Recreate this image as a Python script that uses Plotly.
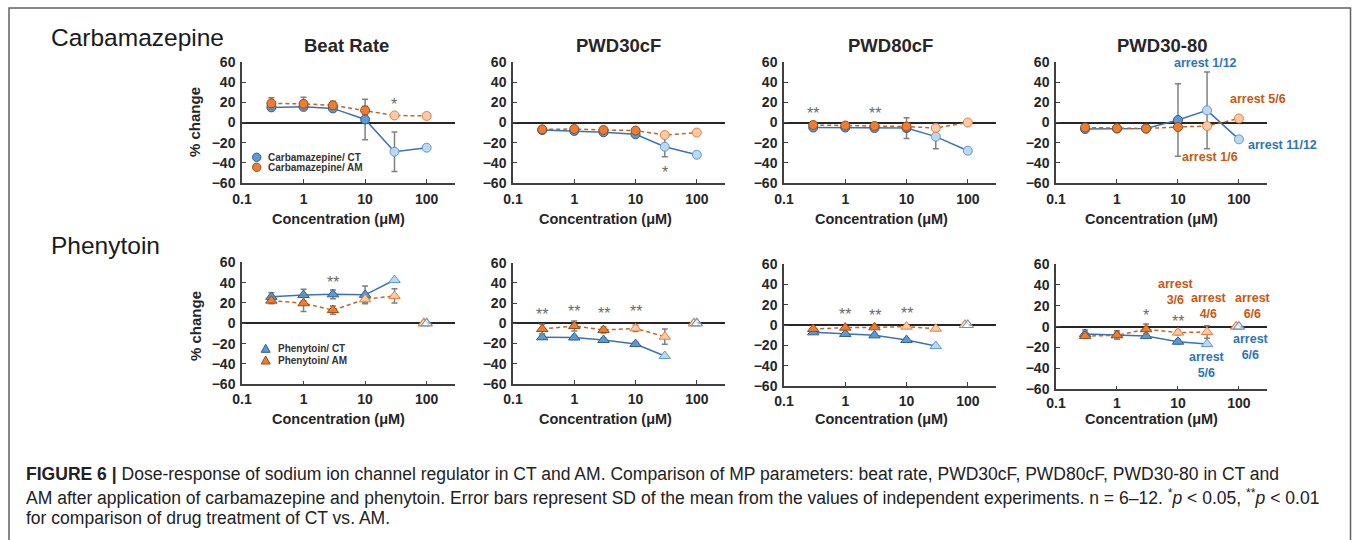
import math
import plotly.graph_objects as go

# ---------------- data ----------------
conc = [0.3, 1, 3, 10, 30, 100]
pht_conc = [0.3, 1, 3, 10, 30]

# Carbamazepine (% change)
cbz_ct_beat = [15, 15.5, 14, 3, -29, -25]
cbz_ct_beat_sd = [3, 3, 3, 20, 19.5, 0]
cbz_am_beat = [19, 18.5, 17, 12, 7, 6.5]
cbz_am_beat_sd = [5.5, 6.5, 4, 4, 0, 0]

cbz_ct_pwd30 = [-7.5, -8.4, -9.7, -11.7, -24, -32]
cbz_ct_pwd30_sd = [1, 1, 1, 2, 10, 0]
cbz_am_pwd30 = [-6.8, -6.5, -7.4, -8, -12.4, -10]
cbz_am_pwd30_sd = [1, 1, 1, 1, 0, 0]

cbz_ct_pwd80 = [-5, -5, -5.5, -5.5, -14, -28]
cbz_ct_pwd80_sd = [1, 1, 1, 10.3, 12, 0]
cbz_am_pwd80 = [-2.5, -3, -3.5, -4, -5.5, 0]
cbz_am_pwd80_sd = [1, 1, 1, 1, 0, 0]

cbz_ct_pwd3080 = [-6.5, -6, -6, 2.5, 12, -16.7]
cbz_ct_pwd3080_sd = [1, 1, 1, 36, 38, 0]
cbz_am_pwd3080 = [-5, -5.7, -6, -4.5, -3.5, 4]
cbz_am_pwd3080_sd = [1, 1, 1, 2, 2, 0]

# Phenytoin (% change)
pht_ct_beat = [26, 27.8, 28.5, 28, 42.6]
pht_ct_beat_sd = [4, 5.6, 4.3, 8.7, 0]
pht_am_beat = [22.3, 19.7, 13, 23.6, 26.9]
pht_am_beat_sd = [3, 8, 4, 3, 7]

pht_ct_pwd30 = [-13.8, -14, -16.5, -20.5, -32.3]
pht_ct_pwd30_sd = [2, 2, 2, 2, 0]
pht_am_pwd30 = [-5.6, -2.6, -6.6, -5, -13.2]
pht_am_pwd30_sd = [4.6, 5, 3, 3, 7.5]

pht_ct_pwd80 = [-7.2, -8.8, -10.2, -14.8, -20.7]
pht_ct_pwd80_sd = [1, 1, 1, 1, 0]
pht_am_pwd80 = [-3.9, -2.6, -2.3, -1.6, -3.6]
pht_am_pwd80_sd = [1, 1, 1, 1, 0]

pht_ct_pwd3080 = [-7, -8, -9, -14.4, -16.6]
pht_ct_pwd3080_sd = [3.8, 4, 2, 2, 0]
pht_am_pwd3080 = [-9, -8.3, -2.5, -5.7, -5.1]
pht_am_pwd3080_sd = [2, 2, 5, 2, 6]

# phenytoin 100 uM: all arrested, plotted at 0
pht_arrest_x_ct = [100]
pht_arrest_x_am = [90]
pht_arrest_y = [0]

titles = ["Beat Rate", "PWD30cF", "PWD80cF", "PWD30-80"]
x_ticks = [0.1, 1, 10, 100]
x_ticklabels = ["0.1", "1", "10", "100"]
y_ticks = [-60, -40, -20, 0, 20, 40, 60]

# significance marks: (concentration, label, y)
sig_top = [
    [(30, "*", 23)],
    [(30, "*", -45)],
    [(0.3, "**", 14), (3, "**", 14)],
    [],
]
sig_bot = [
    [(3, "**", 45)],
    [(0.3, "**", 14), (1, "**", 17), (3, "**", 15), (10, "**", 17)],
    [(1, "**", 15), (3, "**", 14), (10, "**", 16.4)],
    [(3, "*", 15), (10, "**", 9.6)],
]

# ---------------- style ----------------
W, H = 1355, 540
FONT = "Liberation Sans, Arial, sans-serif"
BLUE_FILL, BLUE_EDGE, BLUE_LIGHT = "#5b9bd5", "#2f5f8f", "#bdd7ee"
OR_FILL, OR_EDGE, OR_LIGHT = "#ed7d31", "#9c4a14", "#f8cbad"
CT_LINE, AM_LINE = "#3b72b4", "#c0652a"
ERR = "#808080"
TXT = "#262626"
BLUE_TXT, OR_TXT = "#2e75b6", "#c55a11"


def px(xp):
    return xp / W


def py(yp):
    return 1 - yp / H


x_dom = [(242, 455), (513, 725), (784, 996), (1056, 1267)]
y_dom_top = [(62, 183)] * 4
y_dom_bot = [(262.3, 384.3), (262.7, 384), (264, 386), (264, 389.3)]
x_standoff_top = [2, 2, 2, 2]
x_standoff_bot = [1, 1, 1, 0]

fig = go.Figure()
layout = {}


def add_axes(idx, xd, yd, xstand):
    layout[f"xaxis{idx}"] = dict(
        domain=[px(xd[0]), px(xd[1])], anchor=f"y{idx}", type="log",
        range=[-1, 2.46], tickvals=x_ticks, ticktext=x_ticklabels,
        showline=True, linecolor="#404040", linewidth=1.5,
        ticks="inside", ticklen=4, tickwidth=1.2, tickcolor="#404040",
        showgrid=False, zeroline=False, ticklabelstandoff=xstand, automargin=False,
        tickfont=dict(family=FONT, size=14, color=TXT, weight="bold"),
    )
    layout[f"yaxis{idx}"] = dict(
        domain=[py(yd[1]), py(yd[0])], anchor=f"x{idx}",
        range=[-60, 60], tickvals=y_ticks,
        showline=True, linecolor="#404040", linewidth=1.5,
        ticks="inside", ticklen=4, tickwidth=1.2, tickcolor="#404040",
        showgrid=False, zeroline=True, zerolinecolor="#262626", zerolinewidth=1.5,
        ticklabelstandoff=2, automargin=False,
        tickfont=dict(family=FONT, size=14, color=TXT, weight="bold"),
    )


def series(idx, xs, ys, sd, kind, symbol, light_from):
    ct = kind == "ct"
    fills = [(BLUE_LIGHT if ct else OR_LIGHT) if i >= light_from else (BLUE_FILL if ct else OR_FILL)
             for i in range(len(xs))]
    edges = [(BLUE_FILL if ct else OR_FILL) if i >= light_from else (BLUE_EDGE if ct else OR_EDGE)
             for i in range(len(xs))]
    fig.add_trace(go.Scatter(
        x=xs, y=ys, xaxis=f"x{idx}", yaxis=f"y{idx}", mode="lines+markers",
        line=dict(color=CT_LINE if ct else AM_LINE, width=1.5, dash="solid" if ct else "4px,3px"),
        marker=dict(symbol=symbol, size=9 if symbol == "circle" else 10, color=fills,
                    line=dict(color=edges, width=1)),
        error_y=dict(type="data", array=sd, color=ERR, thickness=1.5, width=3),
        showlegend=False, hoverinfo="x+y",
    ))


top_sets = [
    (cbz_ct_beat, cbz_ct_beat_sd, cbz_am_beat, cbz_am_beat_sd),
    (cbz_ct_pwd30, cbz_ct_pwd30_sd, cbz_am_pwd30, cbz_am_pwd30_sd),
    (cbz_ct_pwd80, cbz_ct_pwd80_sd, cbz_am_pwd80, cbz_am_pwd80_sd),
    (cbz_ct_pwd3080, cbz_ct_pwd3080_sd, cbz_am_pwd3080, cbz_am_pwd3080_sd),
]
bot_sets = [
    (pht_ct_beat, pht_ct_beat_sd, pht_am_beat, pht_am_beat_sd),
    (pht_ct_pwd30, pht_ct_pwd30_sd, pht_am_pwd30, pht_am_pwd30_sd),
    (pht_ct_pwd80, pht_ct_pwd80_sd, pht_am_pwd80, pht_am_pwd80_sd),
    (pht_ct_pwd3080, pht_ct_pwd3080_sd, pht_am_pwd3080, pht_am_pwd3080_sd),
]
pht_am_light_from = [3, 3, 3, 3]

annotations = []


def star_ann(idx, sigs):
    for c, lab, yv in sigs:
        annotations.append(dict(x=math.log10(c), y=yv, xref=f"x{idx}", yref=f"y{idx}", text=lab,
                                showarrow=False, yshift=-5,
                                font=dict(family=FONT, size=16, color="#6a6a6a")))


for k in range(4):
    i = k + 1
    add_axes(i, x_dom[k], y_dom_top[k], x_standoff_top[k])
    ct, ctsd, am, amsd = top_sets[k]
    series(i, conc, ct, ctsd, "ct", "circle", 4)
    series(i, conc, am, amsd, "am", "circle", 4)
    star_ann(i, sig_top[k])

for k in range(4):
    i = k + 5
    add_axes(i, x_dom[k], y_dom_bot[k], x_standoff_bot[k])
    ct, ctsd, am, amsd = bot_sets[k]
    series(i, pht_conc, ct, ctsd, "ct", "triangle-up", 4)
    series(i, pht_conc, am, amsd, "am", "triangle-up", pht_am_light_from[k])
    fig.add_trace(go.Scatter(x=pht_arrest_x_am, y=pht_arrest_y, xaxis=f"x{i}", yaxis=f"y{i}",
                             mode="markers", marker=dict(symbol="triangle-up", size=10, color="white",
                                                         line=dict(color=OR_FILL, width=1.2)),
                             showlegend=False))
    fig.add_trace(go.Scatter(x=pht_arrest_x_ct, y=pht_arrest_y, xaxis=f"x{i}", yaxis=f"y{i}",
                             mode="markers", marker=dict(symbol="triangle-up", size=10, color="rgba(255,255,255,0.6)",
                                                         line=dict(color=BLUE_FILL, width=1.2)),
                             showlegend=False))
    star_ann(i, sig_bot[k])


def ptext(x, y, text, size, color=TXT, bold=False, xanchor="center", angle=0):
    annotations.append(dict(x=px(x), y=py(y), xref="paper", yref="paper", text=text,
                            showarrow=False, xanchor=xanchor, yanchor="middle", textangle=angle,
                            font=dict(family=FONT, size=size, color=color,
                                      weight="bold" if bold else "normal")))


# panel titles
for xc, t in zip([347, 618, 890, 1162], titles):
    ptext(xc, 45, t, 18.5, bold=True)
# x titles
for xc in [338, 605, 882, 1151]:
    ptext(xc, 219, "Concentration (μM)", 14.5, bold=True)
    ptext(xc, 418.5, "Concentration (μM)", 14.5, bold=True)
# y titles
ptext(195, 122, "% change", 15, bold=True, angle=-90)
ptext(195, 326, "% change", 15, bold=True, angle=-90)
# row labels
ptext(49, 37, "Carbamazepine", 24.5, color="#1a1a1a", xanchor="left")
ptext(49, 245, "Phenytoin", 24.5, color="#1a1a1a", xanchor="left")

# arrest labels
ptext(1205, 63.5, "arrest 1/12", 12.5, BLUE_TXT, True)
ptext(1258, 99.5, "arrest 5/6", 12.5, OR_TXT, True)
ptext(1282, 144.5, "arrest 11/12", 12.5, BLUE_TXT, True)
ptext(1210, 157, "arrest 1/6", 12.5, OR_TXT, True)
ptext(1176, 292, "arrest<br>3/6", 12.5, OR_TXT, True)
ptext(1209, 306.5, "arrest<br>4/6", 12.5, OR_TXT, True)
ptext(1253, 306.5, "arrest<br>6/6", 12.5, OR_TXT, True)
ptext(1207, 365, "arrest<br>5/6", 12.5, BLUE_TXT, True)
ptext(1251, 346.5, "arrest<br>6/6", 12.5, BLUE_TXT, True)

# legends (keys as shapes, labels as text)
shapes = []
for yc, fill, edge, lab in [(157.3, BLUE_FILL, BLUE_EDGE, "Carbamazepine/ CT"),
                            (167.3, OR_FILL, OR_EDGE, "Carbamazepine/ AM")]:
    r = 4.2
    shapes.append(dict(type="circle", xref="paper", yref="paper",
                       x0=px(256.7 - r), x1=px(256.7 + r), y0=py(yc + r), y1=py(yc - r),
                       fillcolor=fill, line=dict(color=edge, width=1)))
    ptext(265.5, yc, lab, 10, "#333333", True, xanchor="left")
for yc, fill, edge, lab in [(348.5, BLUE_FILL, BLUE_EDGE, "Phenytoin/ CT"),
                            (360.2, OR_FILL, OR_EDGE, "Phenytoin/ AM")]:
    cx, s = 265.7, 4.5
    path = (f"M {px(cx - s)},{py(yc + s * 0.85)} L {px(cx + s)},{py(yc + s * 0.85)} "
            f"L {px(cx)},{py(yc - s * 0.95)} Z")
    shapes.append(dict(type="path", xref="paper", yref="paper", path=path,
                       fillcolor=fill, line=dict(color=edge, width=1)))
    ptext(276, yc, lab, 10, "#333333", True, xanchor="left")

# frame
shapes.append(dict(type="rect", xref="paper", yref="paper", x0=px(9), x1=px(1350.5),
                   y0=-0.05, y1=py(8), line=dict(color="#606060", width=1.5), fillcolor="rgba(0,0,0,0)"))

# caption
cap1 = ("<b>FIGURE 6 |</b> Dose-response of sodium ion channel regulator in CT and AM. Comparison of MP "
        "parameters: beat rate, PWD30cF, PWD80cF, PWD30-80 in CT and")
cap2 = ("AM after application of carbamazepine and phenytoin. Error bars represent SD of the mean from the "
        "values of independent experiments. n = 6–12. <sup>*</sup><i>p</i> &lt; 0.05, "
        "<sup>**</sup><i>p</i> &lt; 0.01")
cap3 = "for comparison of drug treatment of CT vs. AM."
for yc, t in [(474, cap1), (497, cap2), (518, cap3)]:
    ptext(24, yc, t, 17.55, "#222222", xanchor="left")

layout.update(dict(
    template="none",
    width=W, height=H, margin=dict(l=0, r=0, t=0, b=0, autoexpand=False),
    paper_bgcolor="white", plot_bgcolor="rgba(0,0,0,0)",
    showlegend=False, annotations=annotations, shapes=shapes,
    font=dict(family=FONT, color=TXT),
))
fig.update_layout(**layout)
fig.write_html("out.html", config={"displayModeBar": False},
               post_script="document.body.style.margin='0px';document.body.style.overflow='hidden';")
